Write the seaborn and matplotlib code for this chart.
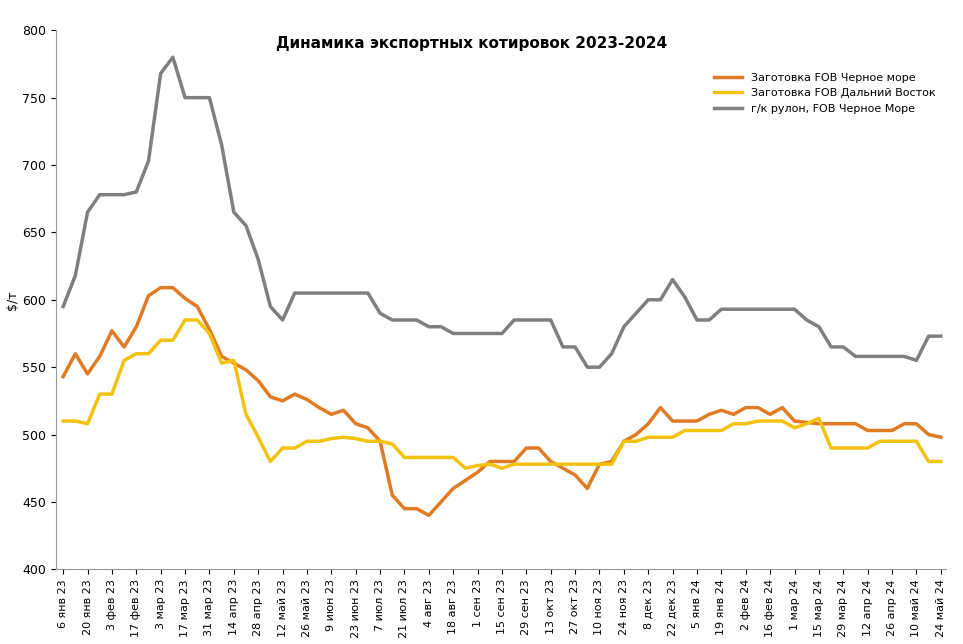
import matplotlib
matplotlib.use("Agg")
import matplotlib.pyplot as plt
import seaborn as sns
import pandas as pd
import numpy as np

tick_labels = ["6 янв 23","20 янв 23","3 фев 23","17 фев 23","3 мар 23","17 мар 23","31 мар 23",
"14 апр 23","28 апр 23","12 май 23","26 май 23","9 июн 23","23 июн 23","7 июл 23","21 июл 23",
"4 авг 23","18 авг 23","1 сен 23","15 сен 23","29 сен 23","13 окт 23","27 окт 23","10 ноя 23",
"24 ноя 23","8 дек 23","22 дек 23","5 янв 24","19 янв 24","2 фев 24","16 фев 24","1 мар 24",
"15 мар 24","29 мар 24","12 апр 24","26 апр 24","10 май 24","24 май 24"]

gray = [595,618,665,678,678,678,680,703,768,780,750,750,750,715,665,655,630,595,585,605,
605,605,605,605,605,605,590,585,585,585,580,580,575,575,575,575,575,585,585,585,585,565,565,
550,550,560,580,590,600,600,615,602,585,585,593,593,593,593,593,593,593,585,580,565,565,558,
558,558,558,558,555,573,573]
orange = [543,560,545,558,577,565,580,603,609,609,601,595,578,558,553,548,540,528,525,530,
526,520,515,518,508,505,495,455,445,445,440,450,460,466,472,480,480,480,490,490,480,475,470,
460,478,480,495,500,508,520,510,510,510,515,518,515,520,520,515,520,510,509,508,508,508,508,
503,503,503,508,508,500,498]
yellow = [510,510,508,530,530,555,560,560,570,570,585,585,575,553,555,515,498,480,490,490,
495,495,497,498,497,495,495,493,483,483,483,483,483,475,477,478,475,478,478,478,478,478,478,
478,478,478,495,495,498,498,498,503,503,503,503,508,508,510,510,510,505,508,512,490,490,490,
490,495,495,495,495,480,480]

names = ["Заготовка FOB Черное море", "Заготовка FOB Дальний Восток", "г/к рулон, FOB Черное Море"]
colors = ["#E07B24", "#F2C20F", "#7F7F7F"]
n = len(gray)
df = pd.DataFrame({"week": np.tile(np.arange(n), 3),
                   "value": orange + yellow + gray,
                   "series": np.repeat(names, n)})

fig = plt.figure(figsize=(9.63, 6.44), dpi=100)
ax = fig.add_axes([0.058, 0.116, 0.924, 0.837])
sns.lineplot(data=df, x="week", y="value", hue="series", palette=colors, hue_order=names,
             linewidth=2.5, ax=ax)
ax.set_xlim(-0.6, n - 0.6)
ax.set_ylim(400, 800)
ax.set_yticks(range(400, 801, 50))
ax.set_xticks(np.arange(0, n, 2))
ax.set_xticklabels(tick_labels, rotation=90, fontsize=8)
ax.tick_params(axis="y", labelsize=9)
ax.set_xlabel("")
ax.set_ylabel("$/т", fontsize=9, labelpad=2)
for s in ["top", "right"]:
    ax.spines[s].set_visible(False)
ax.spines["left"].set_color("#999999")
ax.spines["bottom"].set_color("#999999")
ax.legend(loc="upper right", bbox_to_anchor=(1.0, 0.94), frameon=False, fontsize=8, title=None,
          handlelength=2.5)
fig.text(0.49, 0.925, "Динамика экспортных котировок 2023-2024", ha="center",
         fontsize=11, fontweight="bold")
fig.savefig("out.png", dpi=100)
